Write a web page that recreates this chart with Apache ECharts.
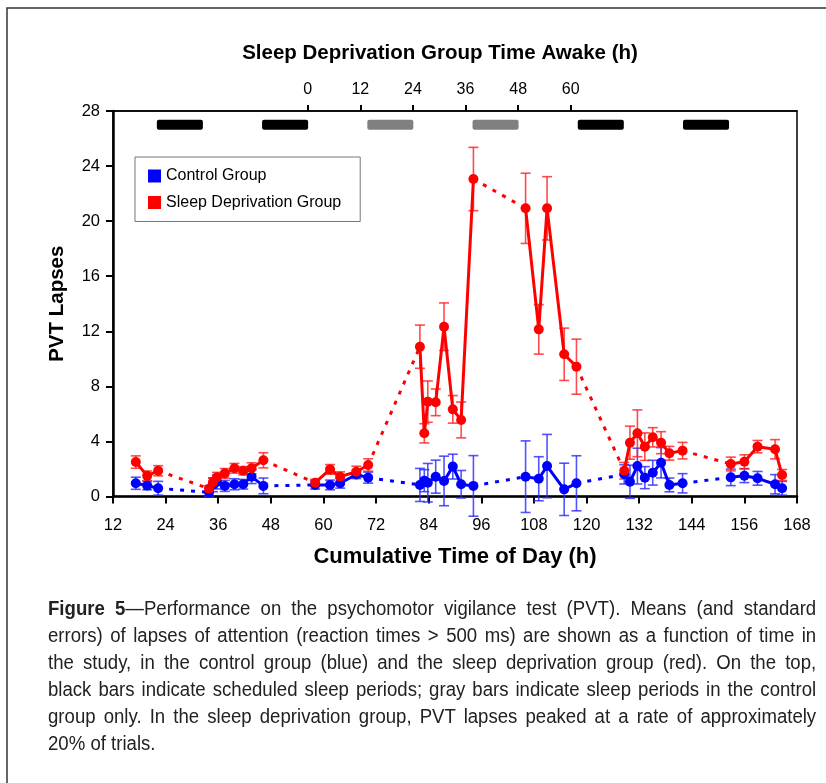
<!DOCTYPE html>
<html>
<head>
<meta charset="utf-8">
<script src="https://cdn.jsdelivr.net/npm/echarts@6/dist/echarts.min.js"></script>
<style>
html,body{margin:0;padding:0;background:#fff;}
#wrap{position:relative;width:826px;height:783px;overflow:hidden;}
#chart{position:absolute;left:0;top:0;width:826px;height:783px;}
#cap{position:absolute;left:48px;top:595px;width:826px;transform:scaleX(0.93);transform-origin:0 0;font-family:"Liberation Sans",Arial,sans-serif;font-size:20px;line-height:26.9px;color:#222;}
#cap div{text-align:justify;text-align-last:justify;white-space:nowrap;}
#cap div.last{text-align-last:left;}
</style>
</head>
<body>
<div id="wrap">
<div id="chart"></div>
<div id="cap">
<div><b>Figure 5</b>—Performance on the psychomotor vigilance test (PVT). Means (and standard</div>
<div>errors) of lapses of attention (reaction times &gt; 500 ms) are shown as a function of time in</div>
<div>the study, in the control group (blue) and the sleep deprivation group (red). On the top,</div>
<div>black bars indicate scheduled sleep periods; gray bars indicate sleep periods in the control</div>
<div>group only. In the sleep deprivation group, PVT lapses peaked at a rate of approximately</div>
<div class="last">20% of trials.</div>
</div>
</div>
<script>
// ---- data ----
const hours = [17.2, 19.8, 22.3,
  33.9, 34.8, 35.7, 37.5, 39.7, 41.7, 43.6, 46.3,
  58.1, 61.5, 63.8, 67.5, 70.2,
  82.0, 83.0, 83.8, 85.6, 87.5, 89.5, 91.4, 94.2,
  106.1, 109.1, 111.0, 114.9, 117.7,
  128.6, 129.9, 131.6, 133.3, 135.1, 137.0, 138.9, 141.9,
  152.9, 156.0, 159.0, 163.0, 164.6];
const session = [1,1,1, 2,2,2,2,2,2,2,2, 3,3,3,3,3, 4,4,4,4,4,4,4,4, 5,5,5,5,5, 6,6,6,6,6,6,6,6, 7,7,7,7,7];
const controlMean = [0.96, 0.79, 0.6,
  0.3, 0.85, 1.05, 0.77, 0.89, 0.89, 1.44, 0.77,
  0.84, 0.84, 0.96, 1.6, 1.37,
  0.84, 1.15, 1.0, 1.44, 1.13, 2.17, 0.89, 0.77,
  1.44, 1.29, 2.21, 0.52, 0.96,
  1.61, 1.07, 2.21, 1.37, 1.73, 2.45, 0.84, 0.96,
  1.39, 1.51, 1.32, 0.89, 0.6];
const controlSE = [0.44, 0.3, 0.5,
  0.3, 0.5, 0.5, 0.4, 0.4, 0.35, 0.5, 0.57,
  0.3, 0.35, 0.35, 0.3, 0.4,
  1.2, 0.8, 1.4, 1.2, 1.8, 0.9, 1.0, 2.2,
  2.6, 1.6, 2.3, 1.9, 2.0,
  0.7, 1.2, 1.3, 0.8, 0.9, 1.1, 0.5, 0.7,
  0.6, 0.5, 0.5, 0.7, 0.5];
const sdMean = [2.5, 1.5, 1.87,
  0.57, 1.03, 1.4, 1.68, 2.05, 1.87, 2.05, 2.63,
  1.0, 1.97, 1.44, 1.8, 2.29,
  10.88, 4.59, 6.89, 6.84, 12.33, 6.33, 5.56, 23.06,
  20.93, 12.14, 20.93, 10.33, 9.43,
  1.87, 3.91, 4.59, 3.62, 4.3, 3.91, 3.14, 3.33,
  2.36, 2.53, 3.62, 3.43, 1.56];
const sdSE = [0.45, 0.35, 0.37,
  0.2, 0.3, 0.35, 0.35, 0.35, 0.3, 0.4, 0.55,
  0.25, 0.35, 0.35, 0.4, 0.45,
  1.57, 0.7, 1.5, 0.97, 1.73, 1.0, 1.3, 2.3,
  2.55, 1.8, 2.3, 1.9, 2.0,
  0.6, 1.2, 1.7, 1.0, 0.7, 0.8, 0.5, 0.6,
  0.5, 0.5, 0.45, 0.7, 0.4];
const sleepBlack = [[22, 32.5], [46, 56.5], [118, 128.5], [142, 152.5]];
const sleepGray = [[70, 80.5], [94, 104.5]];
const bottomTicks = [12, 24, 36, 48, 60, 72, 84, 96, 108, 120, 132, 144, 156, 168];
const awakeTicks = [0, 12, 24, 36, 48, 60];
const awakeZero = 56.4; // cumulative hour where time awake = 0
const yTicks = [0, 4, 8, 12, 16, 20, 24, 28];
const barLevel = 27;

// ---- build ----
const BLUE = '#0000ff', RED = '#ff0000';
function sessions() { return [...new Set(session)]; }
function groupSeries(name, mean, se, color, errColor) {
  const out = [];
  out.push({
    type: 'custom', name: name + ' SE', silent: true, z: 2,
    data: hours.map((h, i) => [h, mean[i] - se[i], mean[i] + se[i]]),
    encode: {x: 0, y: [1, 2]},
    renderItem: function (params, api) {
      const x = api.value(0);
      const p1 = api.coord([x, api.value(1)]);
      const p2 = api.coord([x, api.value(2)]);
      const c = 5;
      const st = {stroke: errColor, lineWidth: 1.6};
      return {type: 'group', children: [
        {type: 'line', shape: {x1: p1[0], y1: p1[1], x2: p2[0], y2: p2[1]}, style: st},
        {type: 'line', shape: {x1: p1[0] - c, y1: p1[1], x2: p1[0] + c, y2: p1[1]}, style: st},
        {type: 'line', shape: {x1: p2[0] - c, y1: p2[1], x2: p2[0] + c, y2: p2[1]}, style: st}
      ]};
    }
  });
  const ss = sessions();
  for (let k = 0; k < ss.length - 1; k++) {
    const a = session.lastIndexOf(ss[k]);
    const b = session.indexOf(ss[k + 1]);
    out.push({
      type: 'line', name: name, silent: true, z: 3, showSymbol: false, symbol: 'none',
      data: [[hours[a], mean[a]], [hours[b], mean[b]]],
      lineStyle: {color: color, width: 3, type: [4, 7]}, itemStyle: {color: color}
    });
  }
  ss.forEach(s => {
    const d = [];
    hours.forEach((h, i) => { if (session[i] === s) d.push([h, mean[i]]); });
    out.push({
      type: 'line', name: name, z: 4, data: d, symbol: 'circle', symbolSize: 10,
      lineStyle: {color: color, width: 3}, itemStyle: {color: color}
    });
  });
  return out;
}

const series = [];
series.push({
  type: 'custom', name: 'sleep', silent: true, z: 5,
  data: sleepBlack.map(r => [r[0], r[1], barLevel, 0]).concat(sleepGray.map(r => [r[0], r[1], barLevel, 1])),
  encode: {x: [0, 1], y: 2},
  renderItem: function (params, api) {
    const a = api.coord([api.value(0), api.value(2)]);
    const b = api.coord([api.value(1), api.value(2)]);
    return {type: 'rect', shape: {x: a[0], y: a[1] - 5, width: b[0] - a[0], height: 10, r: 2},
      style: {fill: api.value(3) ? '#808080' : '#000000'}};
  }
});
series.push(...groupSeries('Control Group', controlMean, controlSE, BLUE, 'rgba(40,40,255,0.8)'));
series.push(...groupSeries('Sleep Deprivation Group', sdMean, sdSE, RED, 'rgba(255,30,30,0.8)'));

const FONT = '"Liberation Sans", Arial, sans-serif';
const chart = echarts.init(document.getElementById('chart'), null, {renderer: 'canvas'});
chart.setOption({
  animation: false,
  backgroundColor: 'transparent',
  textStyle: {fontFamily: FONT},
  title: {
    text: 'Sleep Deprivation Group Time Awake (h)',
    left: 435, top: 38, textAlign: 'center',
    textStyle: {fontFamily: FONT, fontWeight: 'bold', fontSize: 20.5, color: '#000'}
  },
  legend: {
    data: [{name: 'Control Group', icon: 'rect'}, {name: 'Sleep Deprivation Group', icon: 'rect'}],
    orient: 'vertical', left: 135, top: 157,
    itemWidth: 13, itemHeight: 13, itemGap: 10.5, itemTextGap: 7,
    padding: [11, 19, 11, 13],
    borderColor: '#777', borderWidth: 1, backgroundColor: '#fff',
    textStyle: {fontFamily: FONT, fontSize: 16, color: '#000'},
    selectedMode: false
  },
  grid: {left: 113, right: 29, top: 111, bottom: 286.5, show: true, borderColor: '#000', borderWidth: 1.5, backgroundColor: 'transparent'},
  xAxis: [{
    type: 'value', position: 'bottom', min: 12, max: 168, interval: 12,
    name: 'Cumulative Time of Day (h)', nameLocation: 'middle', nameGap: 49,
    nameTextStyle: {fontFamily: FONT, fontWeight: 'bold', fontSize: 22, color: '#000'},
    axisLine: {show: true, onZero: false, lineStyle: {color: '#000', width: 2.5}},
    axisTick: {show: true, inside: false, length: 7, lineStyle: {color: '#000', width: 2}},
    axisLabel: {fontSize: 16.5, color: '#000', margin: 20, fontFamily: FONT},
    splitLine: {show: false}
  }, {
    type: 'value', position: 'top', min: 12 - awakeZero, max: 168 - awakeZero,
    axisLine: {show: true, onZero: false, lineStyle: {color: '#000', width: 1.5}},
    axisTick: {show: true, inside: false, length: 6, lineStyle: {color: '#000', width: 2}, customValues: awakeTicks},
    axisLabel: {fontSize: 16, color: '#000', margin: 13, fontFamily: FONT, customValues: awakeTicks},
    splitLine: {show: false}
  }],
  yAxis: [{
    type: 'value', min: 0, max: 28, interval: 4,
    name: 'PVT Lapses', nameLocation: 'middle', nameGap: 45, nameRotate: 90,
    nameTextStyle: {fontFamily: FONT, fontWeight: 'bold', fontSize: 20.5, color: '#000'},
    axisLine: {show: true, onZero: false, lineStyle: {color: '#000', width: 2.5}},
    axisTick: {show: true, inside: false, length: 7, lineStyle: {color: '#000', width: 2}},
    axisLabel: {fontSize: 16.5, color: '#000', margin: 13, fontFamily: FONT},
    splitLine: {show: false}
  }],
  graphic: [{
    type: 'polyline', silent: true,
    shape: {points: [[7, 783], [7, 8], [826, 8]]},
    style: {stroke: '#333', lineWidth: 1.5, fill: null}
  }],
  series: series
});
</script>
</body>
</html>
